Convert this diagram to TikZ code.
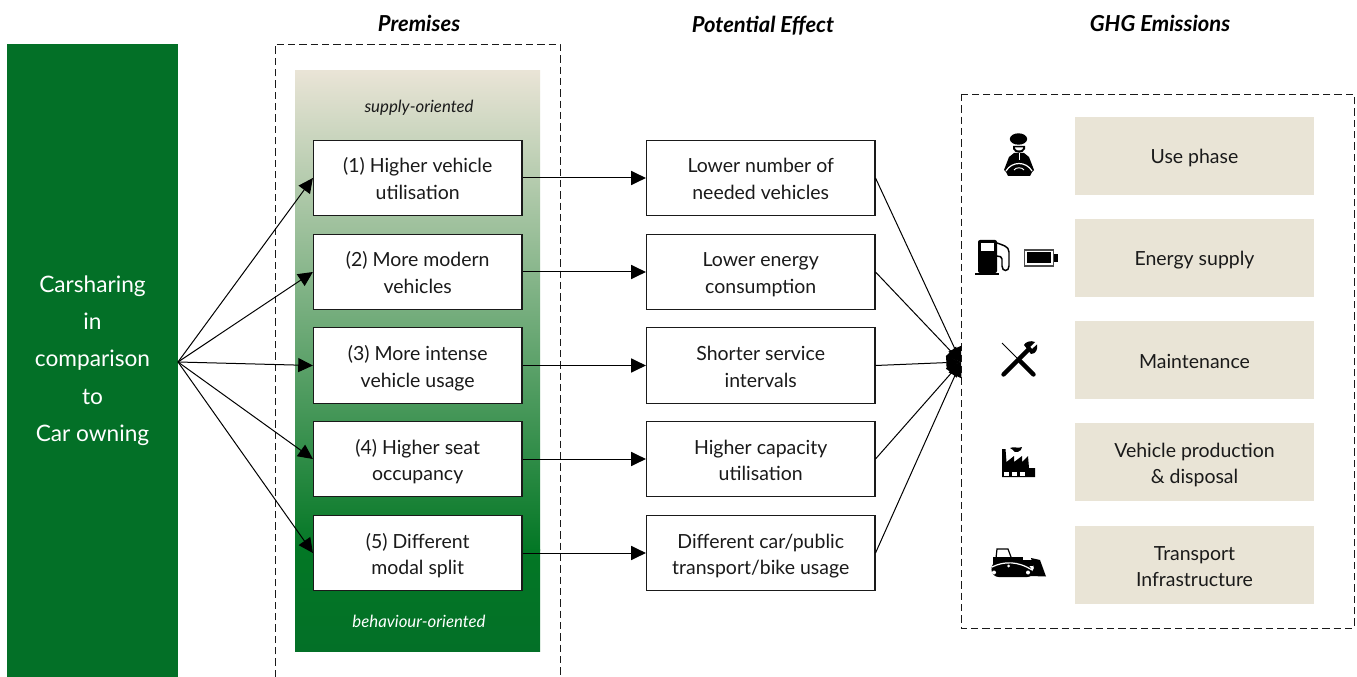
\documentclass[tikz,border=0pt]{standalone}
\usepackage{fontspec}
\setmainfont{Lato}
\usetikzlibrary{arrows.meta,calc}
\definecolor{dgreen}{HTML}{037027}
\definecolor{beige}{HTML}{E9E4D6}
\definecolor{ink}{HTML}{1A1A1A}
\newcommand{\bodyfont}{\fontsize{14.6}{20}\selectfont}
\newcommand{\twostrut}{\rule[-2.75pt]{0pt}{18pt}}
\newcommand{\onestrut}{\rule[-1pt]{0pt}{14.8pt}}
\newcommand{\smallstrut}{\rule[-2pt]{0pt}{13pt}}
\newcommand{\headstrut}{\rule[-4pt]{0pt}{16pt}}
\tikzset{
  x=0.75pt,y=-0.75pt,
  wbox/.style={draw=ink,line width=0.8pt,fill=white,text=ink,minimum width=156.4pt,minimum height=56.3pt,align=center,inner sep=0pt,font=\bodyfont},
  ebox/.style={wbox,minimum width=171.4pt},
  bbox/.style={fill=beige,text=ink,minimum width=179.25pt,minimum height=58.5pt,align=center,inner sep=0pt,font=\bodyfont},
  head/.style={text=black,font=\fontsize{16.5}{18}\selectfont\bfseries\itshape,inner sep=0pt},
  frame/.style={draw=ink,dash pattern=on 5.5pt off 3pt,line width=0.7pt},
  conn/.style={draw=black,line width=0.75pt,-{Triangle[length=11pt,width=10.5pt]}},
  slabel/.style={font=\fontsize{12.6}{16}\selectfont\itshape,inner sep=0pt},
}
\begin{document}
\begin{tikzpicture}
\useasboundingbox (0,0) rectangle (1357,677);
\fill[white] (0,0) rectangle (1357,677);
% left bar
\node[fill=dgreen,text=white,minimum width=128.25pt,minimum height=474.75pt,inner sep=0pt,align=center,font=\fontsize{17}{28}\selectfont] (left) at (92.5,360.5)
  {Carsharing\\in\\comparison\\to\\Car owning};
% premises background
\shade[top color=beige,bottom color=dgreen!95!green] (295,71) rectangle (540,550);
\shade[top color=dgreen!95!green,bottom color=dgreen] (295,549.5) rectangle (540,651);
% frames
\draw[frame] (275,677) -- (275,44) -- (560,44) -- (560,677);
\draw[frame] (961,94) rectangle (1354,628);
% headers
\node[head] (h1) at (419,26.5) {\headstrut Premises};
\node[head] (h2) at (763,26.5) {\headstrut Potential Effect};
\node[head] (h3) at (1160,26.5) {\headstrut GHG Emissions};
\node[slabel,text=ink] (sup) at (419,107) {\smallstrut supply-oriented};
\node[slabel,text=white] (beh) at (419,621) {\smallstrut behaviour-oriented};
% premises
\node[wbox] (p1) at (417.7,178) {\twostrut (1) Higher vehicle\\\twostrut utilisation};
\node[wbox] (p2) at (417.7,272) {\twostrut (2) More modern\\\twostrut vehicles};
\node[wbox] (p3) at (417.7,365.5) {\twostrut (3) More intense\\\twostrut vehicle usage};
\node[wbox] (p4) at (417.7,459) {\twostrut (4) Higher seat\\\twostrut occupancy};
\node[wbox] (p5) at (417.7,553) {\twostrut (5) Different\\\twostrut modal split};
% effects
\node[ebox] (e1) at (760.7,178) {\twostrut Lower number of\\\twostrut needed vehicles};
\node[ebox] (e2) at (760.7,272) {\twostrut Lower energy\\\twostrut consumption};
\node[ebox] (e3) at (760.7,365.5) {\twostrut Shorter service\\\twostrut intervals};
\node[ebox] (e4) at (760.7,459) {\twostrut Higher capacity\\\twostrut utilisation};
\node[ebox] (e5) at (760.7,553) {\twostrut Different car/public\\\twostrut transport/bike usage};
% emissions
\node[bbox] (g1) at (1194.5,156) {\onestrut Use phase};
\node[bbox] (g2) at (1194.5,258) {\onestrut Energy supply};
\node[bbox] (g3) at (1194.5,360) {\onestrut Maintenance};
\node[bbox] (g4) at (1194.5,462) {\twostrut Vehicle production\\\twostrut \& disposal};
\node[bbox] (g5) at (1194.5,565) {\twostrut Transport\\\twostrut Infrastructure};
% connectors
\coordinate (src) at (178,362);
\coordinate (sink) at (961,362);
\foreach \i in {1,...,5}{
  \draw[conn] (src) -- (p\i.west);
  \draw[conn] (p\i.east) -- (e\i.west);
  \draw[conn] (e\i.east) -- (sink);
}
% --- icons ---
% driver
\fill[black] (1018.5,139) ellipse (8.7 and 5.7);
\fill[black] (1013,146) -- (1025,146) -- (1025,149) .. controls (1023,154) and (1015,154) .. (1013,149) -- cycle;
\fill[white] (1015,147.5) -- (1023,147.5) -- (1022.5,149) .. controls (1021,151) and (1017,151) .. (1015.5,149) -- cycle;
\fill[black] (1014,153) -- (1024,153) -- (1029,157) -- (1034,170) -- (1032,172) -- (1030,176) -- (1008,176) -- (1006,172) -- (1004,170) -- (1009,157) -- cycle;
\draw[white,line width=0.9pt] (1006,171) .. controls (1012,161) and (1026,161) .. (1032,171);
\draw[white,line width=0.6pt] (1019,153) -- (1019,160);
\draw[white,line width=0.7pt] (1014,170) .. controls (1016,167) and (1022,167) .. (1024,170);
% fuel pump
\fill[black,rounded corners=1.5pt] (978,240) rectangle (997,273);
\fill[black] (975,273) rectangle (999,275.5);
\fill[white] (981,243) rectangle (994,251);
\draw[black,line width=1.1pt] (997,243) .. controls (1002,245) and (1009,246) .. (1009,252) -- (1009,266) .. controls (1009,272) and (1002,272) .. (1002,266) -- (1002,259) .. controls (1002,257) and (1000,256) .. (997,256);
% battery
\draw[black!70,line width=0.9pt] (1024.5,250) rectangle (1053.5,266);
\fill[black] (1027,252.5) rectangle (1051,263.5);
\fill[black] (1054,254) rectangle (1058,262);
% tools
\draw[black,line width=0.6pt] (1002,343) -- (1017,358);
\draw[black,line width=3.3pt,line cap=round] (1020,361) -- (1033.5,374.5);
\draw[black,line width=3.3pt,line cap=round] (1003.5,374.5) -- (1029,349);
\fill[black] (1024,345) .. controls (1025,342) and (1031,340) .. (1035,342) -- (1030,347) -- (1032,349) -- (1037,344.5) .. controls (1038,349) and (1036,354) .. (1031,354) -- cycle;
% factory
\fill[black] (1002,449) -- (1005.5,449) -- (1006.5,462) -- (1014,456) -- (1014,462) -- (1022,456) -- (1022,462) -- (1028,456) -- (1029,468) -- (1035,468) -- (1035,477) -- (1002,477) -- cycle;
\fill[white] (1004,471.5) rectangle (1008.5,475.5);
\fill[white] (1012,471.5) rectangle (1016.5,475.5);
\fill[white] (1020,471.5) rectangle (1024.5,475.5);
\fill[black] (1010,448) .. controls (1014,446) and (1018,449) .. (1022,447) .. controls (1022,452) and (1014,454) .. (1013,450) -- cycle;
% bulldozer
\draw[black,line width=0.9pt] (996,558) -- (997,549) -- (1008,549) -- (1011,557);
\fill[black] (993,557) rectangle (1023,565);
\fill[black] (1023,560) rectangle (1033,566);
\fill[black] (1031,558) -- (1040,560) -- (1046,576.5) -- (1030,576) -- (1034,568) -- cycle;
\fill[black,rounded corners=5pt] (991,563) .. controls (1004,557) and (1018,557) .. (1031,566) -- (1034,577) -- (992,577) -- cycle;
\draw[white,line width=0.9pt] (992,567) .. controls (1004,561) and (1018,561) .. (1032,570);
\fill[white] (994,572.5) circle (2);
\fill[white] (1008.5,566) circle (1.5);
\fill[white] (1028,572.5) circle (2);
\end{tikzpicture}
\end{document}
